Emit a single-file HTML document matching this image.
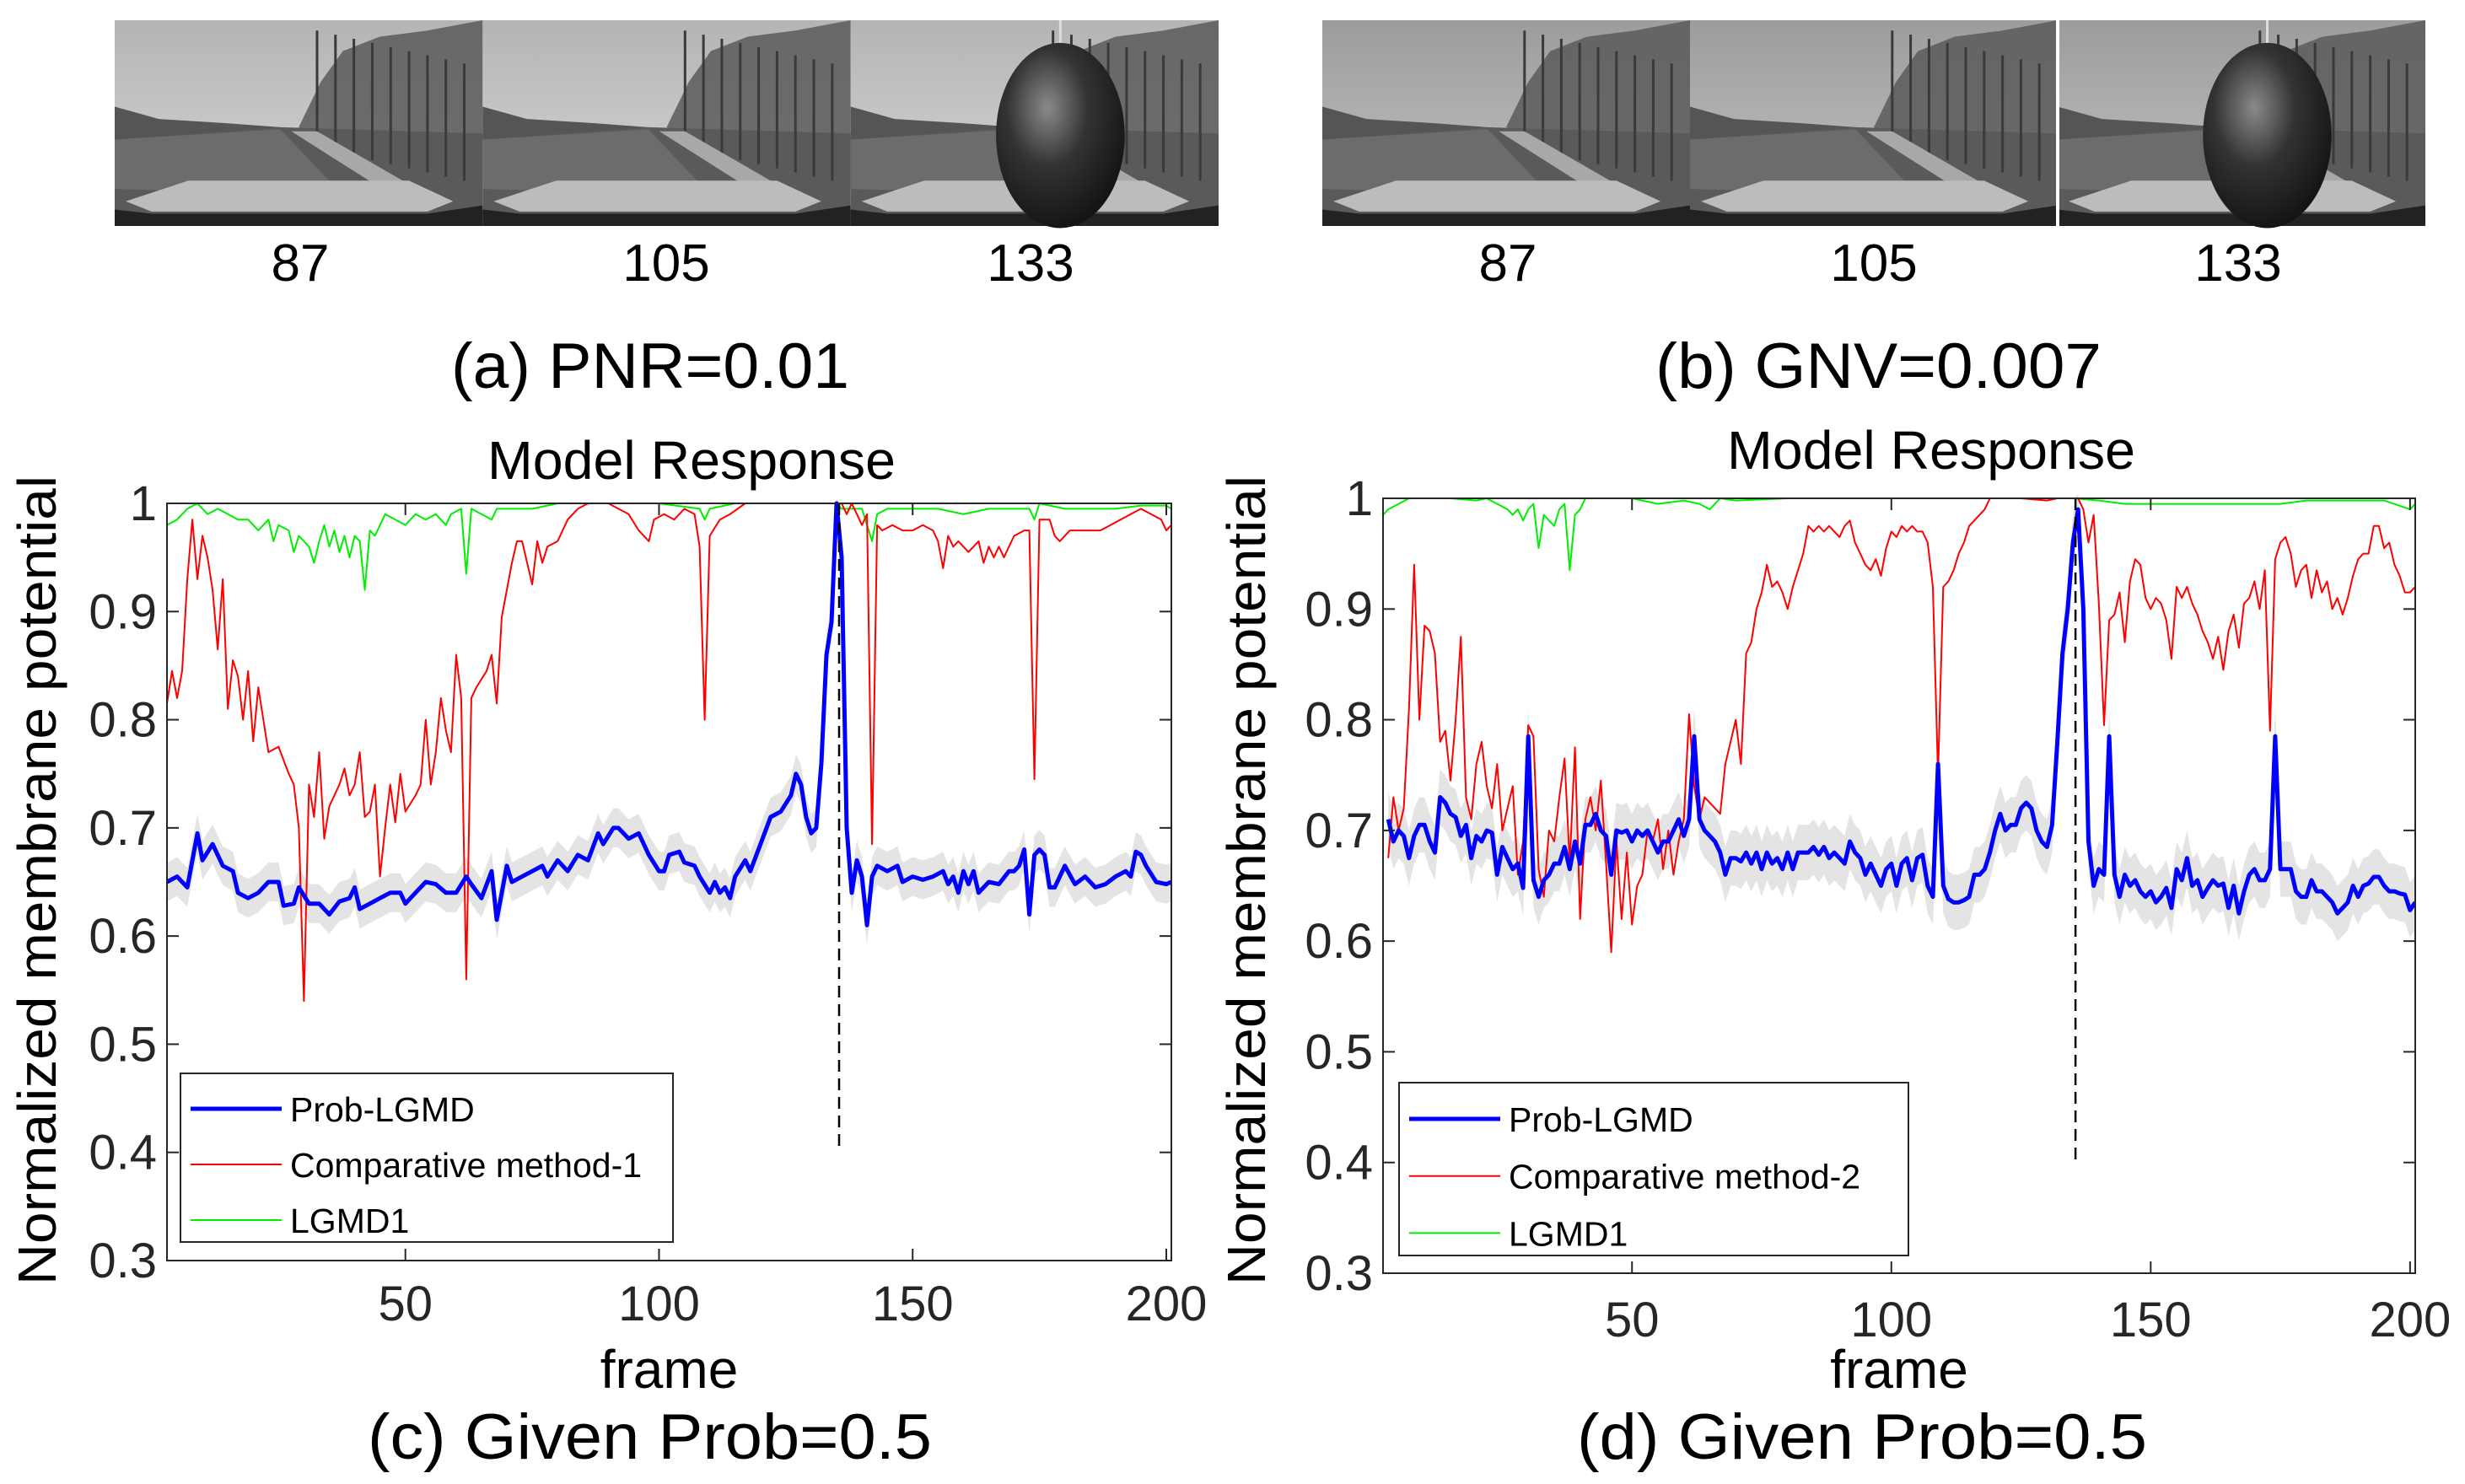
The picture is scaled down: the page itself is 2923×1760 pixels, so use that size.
<!DOCTYPE html>
<html><head><meta charset="utf-8"><style>
html,body{margin:0;padding:0;background:#fff}
svg{display:block}
text{font-family:"Liberation Sans",sans-serif}
</style></head><body>
<svg id="fig" width="2923" height="1760" viewBox="0 0 2923 1760" xmlns="http://www.w3.org/2000/svg">
<defs>
<linearGradient id="sky" x1="0" y1="0" x2="0" y2="1"><stop offset="0" stop-color="#b4b4b4"/><stop offset="1" stop-color="#d8d8d8"/></linearGradient>
<linearGradient id="sky2" x1="0" y1="0" x2="0" y2="1"><stop offset="0" stop-color="#9c9c9c"/><stop offset="1" stop-color="#c4c4c4"/></linearGradient>
<radialGradient id="ball" cx="0.4" cy="0.35" r="0.7"><stop offset="0" stop-color="#8a8a8a"/><stop offset="0.45" stop-color="#333"/><stop offset="1" stop-color="#111"/></radialGradient>
</defs>
<g id="photos"></g>
<g>
<text x="356" y="333" font-size="62" text-anchor="middle">87</text>
<text x="790" y="333" font-size="62" text-anchor="middle">105</text>
<text x="1222" y="333" font-size="62" text-anchor="middle">133</text>
<text x="1788" y="333" font-size="62" text-anchor="middle">87</text>
<text x="2222" y="333" font-size="62" text-anchor="middle">105</text>
<text x="2654" y="333" font-size="62" text-anchor="middle">133</text>
<text x="535" y="460" font-size="76" textLength="472" lengthAdjust="spacingAndGlyphs">(a)  PNR=0.01</text>
<text x="1963" y="460" font-size="76" textLength="529" lengthAdjust="spacingAndGlyphs">(b)  GNV=0.007</text>
<text x="436" y="1730" font-size="76" textLength="669" lengthAdjust="spacingAndGlyphs">(c)  Given Prob=0.5</text>
<text x="1870" y="1730" font-size="76" textLength="676" lengthAdjust="spacingAndGlyphs">(d)  Given Prob=0.5</text>
</g>
<g id="charts"></g>
</svg>
<script>
// ---------- Chart (c) data ----------
const cBlueX=[3,5,7,9,10,12,14,16,17,19,21,23,25,26,28,29,31,33,35,37,39,40,41,43,45,47,49,50,52,54,56,58,60,62,63,65,67,68,70,71,73,75,77,78,80,82,84,86,88,89,91,92,94,96,98,100,101,102,104,105,107,108,110,111,112,113,114,115,117,118,120,122,124,126,127,128,129,130,131,132,133,134,135,136,137,138,139,140,141,142,143,145,147,148,150,152,154,156,157,158,159,160,161,162,163,165,167,169,170,171,172,173,174,175,176,177,178,180,182,184,186,188,190,192,193,194,195,196,198,200,201];
const cBlueY=[0.65,0.655,0.645,0.695,0.67,0.685,0.665,0.66,0.64,0.635,0.64,0.65,0.65,0.628,0.63,0.645,0.63,0.63,0.62,0.632,0.635,0.645,0.625,0.63,0.635,0.64,0.64,0.63,0.64,0.65,0.648,0.64,0.64,0.655,0.648,0.635,0.66,0.615,0.665,0.65,0.655,0.66,0.665,0.655,0.67,0.66,0.675,0.67,0.695,0.685,0.7,0.7,0.69,0.695,0.675,0.66,0.66,0.675,0.678,0.668,0.665,0.655,0.64,0.65,0.64,0.645,0.635,0.655,0.67,0.66,0.685,0.71,0.715,0.73,0.75,0.74,0.71,0.695,0.70,0.76,0.86,0.89,1.0,0.95,0.70,0.64,0.67,0.655,0.61,0.655,0.665,0.66,0.665,0.65,0.655,0.652,0.655,0.66,0.648,0.655,0.64,0.66,0.648,0.66,0.64,0.65,0.648,0.66,0.66,0.665,0.68,0.62,0.675,0.68,0.675,0.645,0.645,0.665,0.648,0.655,0.645,0.648,0.655,0.66,0.655,0.678,0.675,0.665,0.65,0.648,0.65];
const cBand=0.018;
const cRedX=[3,4,5,6,7,8,9,10,11,12,13,14,15,16,17,18,19,20,21,22,23,25,27,28,29,30,31,32,33,34,35,37,38,39,40,41,42,43,44,45,46,47,48,49,50,52,53,54,55,56,57,58,59,60,61,62,63,64,66,67,68,69,71,72,73,75,76,77,78,80,82,84,86,90,94,96,98,99,101,103,105,107,108,109,110,112,114,117,120,125,130,136,137,138,139,140,141,142,143,144,146,148,150,152,154,155,156,157,158,159,161,163,164,165,166,167,168,170,172,173,174,175,177,178,179,181,183,185,187,189,191,193,195,197,199,200,201];
const cRedY=[0.815,0.845,0.82,0.845,0.93,0.985,0.93,0.97,0.95,0.92,0.865,0.93,0.81,0.855,0.84,0.80,0.845,0.78,0.83,0.80,0.77,0.775,0.75,0.74,0.70,0.54,0.74,0.71,0.77,0.69,0.72,0.74,0.755,0.73,0.74,0.77,0.71,0.715,0.74,0.655,0.70,0.74,0.705,0.75,0.715,0.73,0.74,0.80,0.74,0.77,0.82,0.79,0.77,0.86,0.82,0.56,0.82,0.83,0.845,0.86,0.815,0.895,0.945,0.965,0.965,0.925,0.965,0.945,0.96,0.965,0.985,0.995,1.0,1.0,0.99,0.975,0.965,0.985,0.99,0.985,0.995,0.99,0.96,0.80,0.97,0.985,0.99,1.0,1.0,1.0,1.0,1.0,0.99,1.0,0.99,0.98,0.99,0.685,0.98,0.975,0.98,0.975,0.975,0.98,0.975,0.965,0.94,0.97,0.96,0.965,0.955,0.965,0.945,0.96,0.95,0.96,0.95,0.97,0.975,0.975,0.745,0.985,0.985,0.97,0.965,0.975,0.975,0.975,0.975,0.98,0.985,0.99,0.995,0.99,0.985,0.975,0.98];
const cGreenX=[3,5,7,9,11,13,15,17,19,21,23,24,25,27,28,29,31,32,33,34,35,36,37,38,39,40,41,42,43,44,46,48,50,52,54,56,58,59,61,62,63,65,67,68,70,75,80,90,100,108,109,110,115,125,135,136,138,140,142,143,145,150,155,160,165,170,173,174,175,180,185,190,195,200,201];
const cGreenY=[0.98,0.985,0.995,1.0,0.99,0.995,0.99,0.985,0.985,0.975,0.985,0.965,0.98,0.975,0.955,0.97,0.96,0.945,0.965,0.98,0.96,0.975,0.955,0.97,0.95,0.97,0.965,0.92,0.975,0.97,0.99,0.985,0.98,0.99,0.985,0.99,0.98,0.99,0.995,0.935,0.995,0.99,0.985,0.995,0.995,0.995,1.0,1.0,1.0,0.995,0.985,0.995,1.0,1.0,1.0,0.995,0.995,0.995,0.965,0.99,0.995,0.995,0.995,0.99,0.995,0.995,0.995,0.985,1.0,0.995,0.995,0.995,0.998,0.998,0.995];

// ---------- Chart (d) data ----------
const dBlueX=[3,4,5,6,7,8,9,10,11,12,13,14,15,16,17,18,19,20,21,22,23,24,25,26,27,28,29,30,31,32,33,34,35,36,37,38,39,40,41,42,43,44,45,46,47,48,49,50,51,52,53,55,56,57,58,59,60,61,62,63,64,65,66,67,68,69,70,71,72,73,74,75,76,77,78,79,80,81,82,83,84,85,86,87,88,89,90,91,92,93,94,95,96,97,98,99,100,101,102,103,104,105,106,107,108,109,110,111,112,113,114,115,116,117,118,119,120,121,122,123,124,125,126,127,128,129,130,131,132,133,134,135,136,137,138,139,140,141,142,143,144,145,146,147,148,149,150,151,152,153,154,155,156,157,158,159,160,161,162,163,164,165,166,167,168,169,170,171,172,173,174,175,176,177,178,179,180,181,182,183,184,185,186,187,188,189,190,191,192,193,194,195,196,197,198,199,200,201];
const dBlueY=[0.71,0.69,0.70,0.695,0.675,0.695,0.705,0.705,0.69,0.68,0.73,0.725,0.715,0.712,0.695,0.705,0.675,0.695,0.69,0.70,0.698,0.66,0.685,0.675,0.665,0.67,0.648,0.785,0.655,0.64,0.655,0.66,0.67,0.67,0.685,0.665,0.69,0.67,0.705,0.705,0.715,0.70,0.695,0.66,0.70,0.698,0.70,0.69,0.70,0.695,0.70,0.68,0.69,0.69,0.70,0.71,0.695,0.71,0.785,0.71,0.70,0.695,0.69,0.68,0.66,0.675,0.675,0.672,0.68,0.67,0.68,0.665,0.68,0.67,0.675,0.665,0.68,0.665,0.68,0.68,0.68,0.685,0.678,0.685,0.675,0.68,0.675,0.67,0.69,0.68,0.675,0.66,0.67,0.66,0.65,0.665,0.67,0.65,0.67,0.675,0.655,0.675,0.678,0.65,0.64,0.76,0.65,0.638,0.635,0.635,0.637,0.64,0.66,0.66,0.665,0.68,0.70,0.715,0.70,0.705,0.705,0.72,0.725,0.72,0.70,0.69,0.685,0.705,0.78,0.86,0.90,0.96,0.99,0.90,0.69,0.65,0.665,0.66,0.785,0.66,0.64,0.66,0.65,0.655,0.645,0.64,0.645,0.635,0.64,0.648,0.63,0.665,0.655,0.675,0.65,0.655,0.64,0.648,0.655,0.65,0.652,0.63,0.65,0.625,0.645,0.66,0.665,0.655,0.655,0.665,0.785,0.665,0.665,0.665,0.645,0.64,0.64,0.655,0.645,0.645,0.64,0.635,0.625,0.63,0.635,0.65,0.64,0.65,0.652,0.658,0.658,0.65,0.645,0.645,0.643,0.642,0.628,0.635];
const dBand=0.025;
const dRedX=[3,4,5,6,7,8,9,10,11,12,13,14,15,16,17,18,19,20,21,22,23,24,25,26,27,28,29,30,31,32,33,34,35,36,37,38,39,40,41,42,43,44,45,46,47,48,49,50,51,52,53,54,55,56,57,58,59,60,61,62,63,64,65,66,67,68,69,70,71,72,73,74,75,76,77,78,79,80,81,82,83,84,85,86,87,88,89,90,91,92,93,94,95,96,97,98,99,100,101,102,103,104,105,106,107,108,109,110,111,112,113,114,115,116,117,118,119,125,130,132,135,136,137,138,139,140,141,142,143,144,145,146,147,148,149,150,151,152,153,154,155,156,157,158,159,160,161,162,163,164,165,166,167,168,169,170,171,172,173,174,175,176,177,178,179,180,181,182,183,184,185,186,187,188,189,190,191,192,193,194,195,196,197,198,199,200,201];
const dRedY=[0.675,0.73,0.70,0.72,0.81,0.94,0.80,0.885,0.88,0.86,0.78,0.79,0.745,0.80,0.875,0.73,0.71,0.76,0.78,0.74,0.72,0.76,0.70,0.72,0.74,0.66,0.69,0.795,0.785,0.665,0.64,0.70,0.69,0.73,0.765,0.67,0.775,0.62,0.71,0.73,0.70,0.745,0.67,0.59,0.69,0.62,0.68,0.615,0.65,0.66,0.70,0.69,0.71,0.665,0.70,0.66,0.69,0.71,0.805,0.74,0.71,0.73,0.725,0.72,0.715,0.76,0.78,0.80,0.76,0.86,0.87,0.90,0.915,0.94,0.92,0.925,0.915,0.90,0.92,0.935,0.95,0.975,0.97,0.975,0.97,0.975,0.97,0.965,0.975,0.98,0.96,0.95,0.94,0.935,0.945,0.93,0.955,0.97,0.965,0.975,0.97,0.975,0.97,0.97,0.96,0.92,0.75,0.92,0.925,0.935,0.95,0.96,0.975,0.98,0.985,0.99,1.0,1.0,0.998,1.0,1.0,1.0,0.99,0.96,0.985,0.905,0.795,0.89,0.895,0.915,0.87,0.925,0.945,0.94,0.91,0.90,0.91,0.905,0.89,0.855,0.92,0.91,0.92,0.905,0.895,0.88,0.87,0.855,0.875,0.845,0.88,0.895,0.865,0.905,0.91,0.925,0.90,0.935,0.79,0.945,0.96,0.965,0.95,0.92,0.935,0.94,0.91,0.935,0.915,0.925,0.90,0.91,0.895,0.91,0.93,0.945,0.95,0.95,0.975,0.975,0.955,0.96,0.94,0.93,0.915,0.915,0.92];
const dGreenX=[2,3,5,7,10,15,20,22,24,26,27,28,29,30,31,32,33,34,35,36,37,38,39,40,41,50,55,60,63,65,67,70,80,90,100,110,120,135,140,145,150,155,160,165,170,175,180,190,195,200,201];
const dGreenY=[0.985,0.99,0.995,1.0,1.0,1.0,0.998,1.0,0.995,0.99,0.985,0.99,0.98,0.99,0.995,0.955,0.985,0.98,0.975,0.99,0.995,0.935,0.985,0.99,1.0,1.0,0.995,0.998,0.995,0.99,1.0,0.998,1.0,1.0,1.0,1.0,1.0,1.0,0.998,0.995,0.995,0.995,0.995,0.995,0.995,0.995,0.998,0.998,0.998,0.99,0.995];

const yTicks=[0.3,0.4,0.5,0.6,0.7,0.8,0.9,1];
const yTickLabels=["0.3","0.4","0.5","0.6","0.7","0.8","0.9","1"];
const xTicks=[50,100,150,200];
const xTickLabels=["50","100","150","200"];
const collisionFrame=135.5;

const NS="http://www.w3.org/2000/svg";
function mk(tag,attrs,parent){const e=document.createElementNS(NS,tag);for(const k in attrs)e.setAttribute(k,attrs[k]);parent.appendChild(e);return e;}

// ---------- photo strips ----------
function panel(g,x,y,w,h,ball,noisy){
  const P=(a)=>a.map(p=>(x+p[0]*w).toFixed(1)+","+(y+p[1]*h).toFixed(1)).join(" ");
  mk('rect',{x:x,y:y,width:w,height:h,fill:noisy?'url(#sky2)':'url(#sky)'},g);
  mk('polygon',{points:P([[0,0.55],[0.45,0.52],[1,0.55],[1,1],[0,1]]),fill:'#5a5a5a'},g);
  mk('polygon',{points:P([[0,0.58],[0.45,0.53],[0.62,0.85],[0,0.82]]),fill:'#6c6c6c'},g);
  mk('polygon',{points:P([[0.5,0.52],[0.56,0.3],[0.62,0.15],[0.72,0.08],[0.85,0.05],[1,0.0],[1,0.8],[0.8,0.7],[0.58,0.6]]),fill:'#5a5a5a',opacity:0.85},g);
  for(let k=0;k<9;k++){const tx=0.55+k*0.05;mk('line',{x1:x+tx*w,y1:y+(0.05+0.02*k)*h,x2:x+tx*w,y2:y+(0.62+0.02*k)*h,stroke:'#3a3a3a','stroke-width':3},g);}
  mk('polygon',{points:P([[0,0.42],[0.12,0.48],[0.3,0.5],[0.45,0.52],[0,0.58]]),fill:'#555'},g);
  mk('polygon',{points:P([[0.48,0.54],[0.55,0.54],[0.88,0.88],[0.78,0.88]]),fill:'#a8a8a8'},g);
  mk('polygon',{points:P([[0.03,0.88],[0.2,0.78],[0.8,0.78],[0.92,0.88],[0.85,0.93],[0.1,0.93]]),fill:'#bcbcbc'},g);
  mk('polygon',{points:P([[0,0.92],[0.1,0.94],[0.85,0.94],[1,0.9],[1,1],[0,1]]),fill:'#222'},g);
  if(ball){
    mk('line',{x1:x+0.57*w,y1:y,x2:x+0.57*w,y2:y+0.12*h,stroke:'#ddd','stroke-width':3},g);
    mk('ellipse',{cx:x+0.57*w,cy:y+0.56*h,rx:0.175*w,ry:0.45*h,fill:'url(#ball)'},g);
  }
}
const pg=document.getElementById('photos');
const stripL=[136,24,1309,244], stripR=[1568,24,1308,244];
[[stripL,false],[stripR,true]].forEach(([s,noisy],si)=>{
  for(let i=0;i<3;i++){
    const g=mk('g',{},pg);
    
    
    panel(g,s[0]+i*s[2]/3,s[1],s[2]/3,s[3],i===2,noisy);
  }
  if(noisy) mk('line',{x1:s[0]+2*s[2]/3,y1:s[1],x2:s[0]+2*s[2]/3,y2:s[1]+s[3],stroke:'#fff','stroke-width':4},pg);
});

// ---------- charts ----------
function chart(cfg){
  const root=document.getElementById('charts');
  const g=mk('g',{},root);
  
  
  const sx=v=>cfg.L+(v-cfg.xmin)/(cfg.xmax-cfg.xmin)*(cfg.R-cfg.L);
  const sy=v=>cfg.B-(v-0.3)/(1-0.3)*(cfg.B-cfg.T);
  const clip='clip-'+cfg.name;
  const cp=mk('clipPath',{id:clip},g); mk('rect',{x:cfg.L,y:cfg.T-4,width:cfg.R-cfg.L,height:cfg.B-cfg.T+4},cp);
  const pl=mk('g',{'clip-path':'url(#'+clip+')'},g);
  let up=cfg.bx.map((f,i)=>sx(f).toFixed(1)+","+sy(cfg.by[i]+cfg.band).toFixed(1));
  let dn=cfg.bx.map((f,i)=>sx(f).toFixed(1)+","+sy(cfg.by[i]-cfg.band).toFixed(1)).reverse();
  const band=mk('polygon',{points:up.concat(dn).join(" "),fill:'#e4e4e4'},pl);
  
  
  const line=(xs,ys,col,w,nm)=>{const e=mk('polyline',{points:xs.map((f,i)=>sx(f).toFixed(1)+","+sy(ys[i]).toFixed(1)).join(" "),fill:'none',stroke:col,'stroke-width':w,'stroke-linejoin':'round'},pl);
    
    };
  line(cfg.gx,cfg.gy,'#00ee00',2,'lgmd1-line');
  line(cfg.rx,cfg.ry,'#ff0000',2,'comparative-line');
  line(cfg.bx,cfg.by,'#0000ff',5,'prob-lgmd-line');
  const dash=mk('line',{x1:sx(collisionFrame),x2:sx(collisionFrame),y1:sy(1),y2:sy(0.4),stroke:'#000','stroke-width':2.5,'stroke-dasharray':'14,8'},g);
  
  
  const box=mk('rect',{x:cfg.L,y:cfg.T,width:cfg.R-cfg.L,height:cfg.B-cfg.T,fill:'none',stroke:'#262626','stroke-width':2},g);
  
  
  yTicks.forEach((v,i)=>{
    const y=sy(v);
    mk('line',{x1:cfg.L,x2:cfg.L+14,y1:y,y2:y,stroke:'#262626','stroke-width':2},g);
    mk('line',{x1:cfg.R,x2:cfg.R-14,y1:y,y2:y,stroke:'#262626','stroke-width':2},g);
    const t=mk('text',{x:cfg.L-12,y:y+20,'font-size':58,'text-anchor':'end',fill:'#262626'},g);
    
    
    t.textContent=yTickLabels[i];
  });
  xTicks.forEach((v,i)=>{
    const x=sx(v);
    mk('line',{x1:x,x2:x,y1:cfg.B,y2:cfg.B-14,stroke:'#262626','stroke-width':2},g);
    mk('line',{x1:x,x2:x,y1:cfg.T,y2:cfg.T+14,stroke:'#262626','stroke-width':2},g);
    const t=mk('text',{x:x,y:cfg.xLabY,'font-size':58,'text-anchor':'middle',fill:'#262626'},g);
    
    
    t.textContent=xTickLabels[i];
  });
  const title=mk('text',{x:cfg.titleX,y:cfg.titleY,'font-size':64,'text-anchor':'middle',textLength:484,lengthAdjust:'spacingAndGlyphs'},g);
  
  
  title.textContent='Model Response';
  const xt=mk('text',{x:(cfg.L+cfg.R)/2,y:cfg.frameY,'font-size':64,'text-anchor':'middle'},g);
  
  
  xt.textContent='frame';
  const yt=mk('text',{x:0,y:0,'font-size':64,'text-anchor':'middle',transform:'translate('+cfg.yTitleX+',1044) rotate(-90)',textLength:960,lengthAdjust:'spacingAndGlyphs'},g);
  
  
  yt.textContent='Normalized membrane potential';
  const lg=mk('g',{},g);
  
  
  const [lx,ly,lw,lh]=cfg.leg;
  mk('rect',{x:lx,y:ly,width:lw,height:lh,fill:'#fff',stroke:'#262626','stroke-width':2},lg);
  const ents=[['Prob-LGMD','#0000ff',5],[cfg.compName,'#ff0000',2],['LGMD1','#00ee00',2]];
  ents.forEach((e,i)=>{
    const yy=ly+lh*(0.21+0.3*i+(i?0.03*i:0));
    const eg=mk('g',{},lg);
    
    
    mk('line',{x1:lx+12,x2:lx+120,y1:yy,y2:yy,stroke:e[1],'stroke-width':e[2]},eg);
    const t=mk('text',{x:lx+130,y:yy+15,'font-size':41},eg);
    t.textContent=e[0];
  });
}
chart({name:'chart-c',L:198,R:1389,T:597,B:1495,xmin:3,xmax:201,
  bx:cBlueX,by:cBlueY,band:cBand,rx:cRedX,ry:cRedY,gx:cGreenX,gy:cGreenY,
  xLabY:1566,titleX:820,titleY:568,frameY:1646,yTitleX:66,leg:[214,1273,584,200],compName:'Comparative method-1'});
chart({name:'chart-d',L:1640,R:2864,T:591,B:1510,xmin:2,xmax:201,
  bx:dBlueX,by:dBlueY,band:dBand,rx:dRedX,ry:dRedY,gx:dGreenX,gy:dGreenY,
  xLabY:1585,titleX:2290,titleY:556,frameY:1646,yTitleX:1500,leg:[1659,1284,604,205],compName:'Comparative method-2'});
</script>
</body></html>
